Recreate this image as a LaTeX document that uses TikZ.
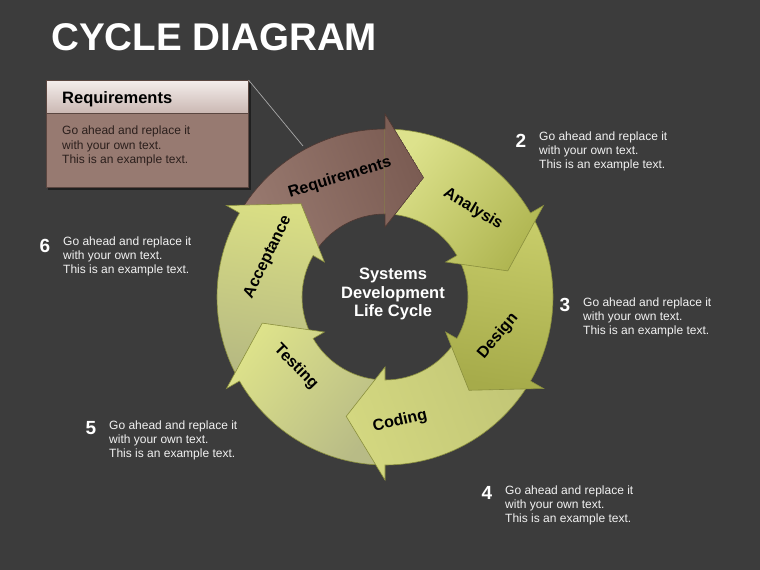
\documentclass[tikz,border=0pt]{standalone}
\usepackage{fontspec}
\setmainfont{Liberation Sans}
\definecolor{bg}{HTML}{3C3C3C}
\definecolor{reqA}{HTML}{7B5C53}
\definecolor{reqB}{HTML}{98796F}
\definecolor{anaA}{HTML}{B0B652}
\definecolor{anaB}{HTML}{DDE28C}
\definecolor{desA}{HTML}{A6AB4A}
\definecolor{desB}{HTML}{C8CD6A}
\definecolor{codA}{HTML}{D3D780}
\definecolor{codB}{HTML}{C2C676}
\definecolor{tesA}{HTML}{DDE28A}
\definecolor{tesB}{HTML}{B8BB86}
\definecolor{accA}{HTML}{D9DE84}
\definecolor{accB}{HTML}{B5B882}
\definecolor{greenedge}{HTML}{8A8F3E}
\definecolor{brownedge}{HTML}{4E3832}
\definecolor{boxbody}{HTML}{977A71}
\definecolor{boxedge}{HTML}{5A4640}
\definecolor{hdrA}{HTML}{F4EEEC}
\definecolor{hdrB}{HTML}{CBB8B3}
\definecolor{boxtext}{HTML}{2B1F1C}
\definecolor{infotext}{HTML}{F2F2F2}
\definecolor{leadline}{HTML}{A8A8A8}
\newcommand{\arrowpath}[1]{(#1+60:168) arc[start angle=#1+60, end angle=#1, radius=168] -- (#1:183) -- (#1-18:125.5) -- (#1:70) -- (#1:83) arc[start angle=#1, end angle=#1+60, radius=83] -- cycle}
\newcommand{\cycarrow}[5]{\path[draw=#5, line width=0.6pt, top color=#2, bottom color=#3, shading angle=#4] \arrowpath{#1};}
\begin{document}
\begin{tikzpicture}[x=1pt,y=1pt,
  lbl/.style={font=\fontsize{16}{18}\selectfont\bfseries, text=black, inner sep=0pt},
  info/.style={font=\fontsize{12}{14}\selectfont, text=infotext, align=left, anchor=west, inner sep=0pt},
  num/.style={font=\fontsize{19}{20}\selectfont\bfseries, text=white, inner sep=0pt},
  centertext/.style={font=\fontsize{16.5}{18.5}\selectfont\bfseries, text=white, align=center, inner sep=0pt}]
\fill[bg] (0,0) rectangle (760,-570);
\useasboundingbox (0,0) rectangle (760,-570);

% title
\node[anchor=base west, inner sep=0pt, text=white, font=\fontsize{38.6}{40}\selectfont\bfseries] (title) at (51,-50) {CYCLE DIAGRAM};

% cycle arrows
\begin{scope}[shift={(385,-297)}]
  \cycarrow{90}{reqA}{reqB}{-69}{brownedge}
  \cycarrow{150}{accA}{accB}{-9}{greenedge}
  \cycarrow{-150}{tesA}{tesB}{51}{greenedge}
  \cycarrow{-90}{codA}{codB}{111}{greenedge}
  \cycarrow{-30}{desA}{desB}{171}{greenedge}
  \cycarrow{30}{anaA}{anaB}{-129}{greenedge}
  \begin{scope}
    \clip (90:185) -- (72:125.5) -- (90:68) -- cycle;
    \cycarrow{90}{reqA}{reqB}{-69}{brownedge}
  \end{scope}
\end{scope}

% arrow labels
\node[lbl, rotate=17] (lreq) at (340,-178) {Requirements};
\node[lbl, rotate=-31] (lana) at (473,-209) {Analysis};
\node[lbl, rotate=50] (ldes) at (498,-336) {Design};
\node[lbl, rotate=13] (lcod) at (400,-421) {Coding};
\node[lbl, rotate=-46] (ltes) at (296,-367) {Testing};
\node[lbl, rotate=64] (lacc) at (268,-257) {Acceptance};

% center text
\node[centertext] (ctr) at (393,-294) {Systems\\Development\\Life Cycle};

% callout box
\fill[black, opacity=0.45] (48,-83) rectangle (251,-190);
\node[draw=boxedge, line width=0.5pt, fill=boxbody, minimum width=202pt, minimum height=107pt, anchor=north west, inner sep=0pt] (box) at (46,-80) {};
\shade[top color=hdrA, bottom color=hdrB, draw=boxedge, line width=0.5pt] (box.north west) rectangle ([yshift=-33pt]box.north east);
\node[anchor=base west, inner sep=0pt, font=\fontsize{16.5}{18}\selectfont\bfseries, text=black] (hdr) at (62,-103) {Requirements};
\node[info, text=boxtext, font=\fontsize{12}{14.5}\selectfont] (boxtxt) at (62,-146) {Go ahead and replace it\\with your own text.\\This is an example text.};
\coordinate (reqpt) at (303,-146);
\draw[leadline, line width=0.7pt] (box.north east) -- (reqpt);

% numbered texts
\node[num] (n2) at (521,-141) {2};
\node[info] (t2) at (539,-151) {Go ahead and replace it\\with your own text.\\This is an example text.};
\node[num] (n3) at (565,-305) {3};
\node[info] (t3) at (583,-317.5) {Go ahead and replace it\\with your own text.\\This is an example text.};
\node[num] (n4) at (487,-493) {4};
\node[info] (t4) at (505,-505) {Go ahead and replace it\\with your own text.\\This is an example text.};
\node[num] (n5) at (91,-428) {5};
\node[info] (t5) at (109,-440) {Go ahead and replace it\\with your own text.\\This is an example text.};
\node[num] (n6) at (45,-246) {6};
\node[info] (t6) at (63,-256.5) {Go ahead and replace it\\with your own text.\\This is an example text.};
\end{tikzpicture}
\end{document}
